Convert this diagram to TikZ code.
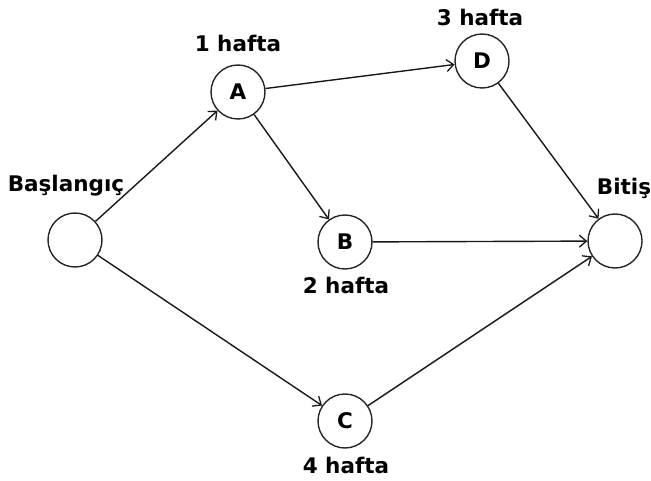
\documentclass[tikz,border=0pt]{standalone}
\usepackage{fontspec}
\setmainfont{DejaVu Sans}
\usetikzlibrary{arrows.meta}
\begin{document}
\begin{tikzpicture}[x=1pt,y=-1pt,
  evt/.style={circle,draw=black!85,line width=1.4pt,minimum size=54pt,inner sep=0pt,font=\fontsize{21.5}{24}\selectfont\bfseries},
  lbl/.style={font=\fontsize{21.5}{24}\selectfont\bfseries,inner sep=0pt},
  conn/.style={draw=black!90,line width=1.4pt,-{Straight Barb[length=7pt,width=12pt,line width=1.3pt]}}]
\useasboundingbox (0,0) rectangle (651,481);
\node[evt] (S) at (75,240) {};
\node[evt] (A) at (238,92) {A};
\node[evt] (D) at (482,61) {D};
\node[evt] (B) at (345,242) {B};
\node[evt] (C) at (345,421) {C};
\node[evt] (E) at (615,241) {};
\node[lbl] (lS) at (66,186) {Başlangıç};
\node[lbl] (lA) at (238,43) {1 hafta};
\node[lbl] (lD) at (480,17) {3 hafta};
\node[lbl] (lB) at (346,285) {2 hafta};
\node[lbl] (lC) at (346,465) {4 hafta};
\node[lbl] (lE) at (624,188) {Bitiş};
\draw[conn] (S) -- (A);
\draw[conn] (S) -- (C);
\draw[conn] (A) -- (D);
\draw[conn] (A) -- (B);
\draw[conn] (D) -- (E);
\draw[conn] (B) -- (E);
\draw[conn] (C) -- (E);
\end{tikzpicture}
\end{document}
